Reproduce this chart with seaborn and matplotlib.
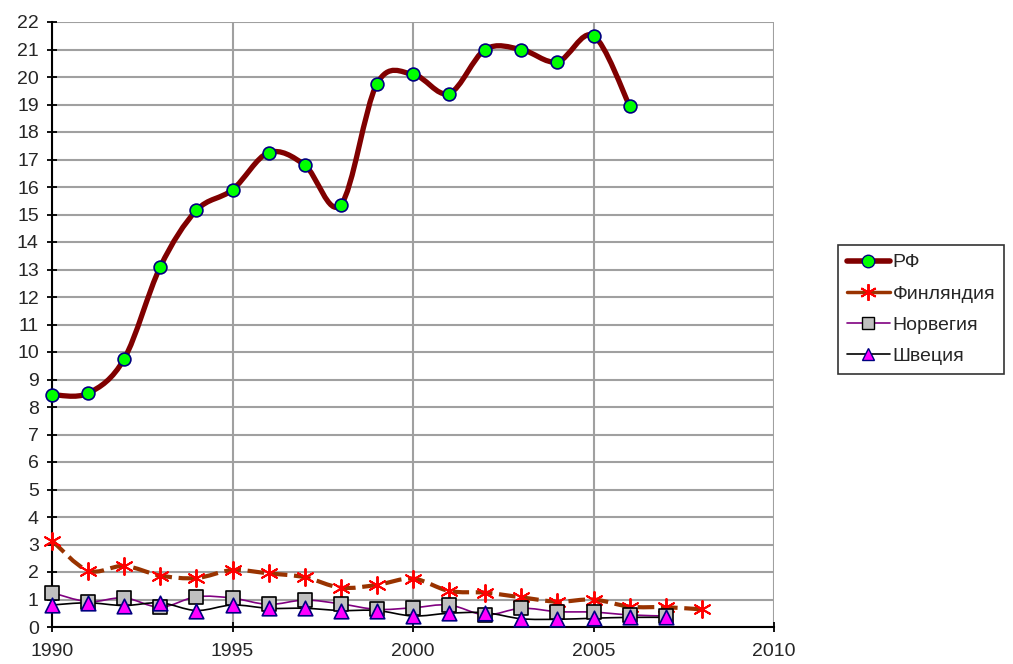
import numpy as np
import matplotlib
matplotlib.use("Agg")
import matplotlib.pyplot as plt
from matplotlib.path import Path
from matplotlib.patches import PathPatch
from matplotlib.lines import Line2D
import seaborn as sns

# Data
years_rf = [1990, 1991, 1992, 1993, 1994, 1995, 1996, 1997, 1998, 1999,
            2000, 2001, 2002, 2003, 2004, 2005, 2006]
rf = [8.45, 8.5, 9.75, 13.1, 15.15, 15.9, 17.25, 16.8, 15.35, 19.75,
      20.1, 19.4, 21.0, 21.0, 20.55, 21.5, 18.95]

years_fin = list(range(1990, 2009))
finland = [3.14, 2.05, 2.22, 1.87, 1.78, 2.07, 1.95, 1.81, 1.43, 1.53,
           1.76, 1.31, 1.25, 1.08, 0.92, 1.0, 0.74, 0.72, 0.64]

years_ns = list(range(1990, 2008))
norway = [1.25, 0.92, 1.06, 0.72, 1.1, 1.05, 0.82, 0.98, 0.84, 0.64,
          0.7, 0.8, 0.44, 0.68, 0.56, 0.54, 0.44, 0.4]
sweden = [0.8, 0.88, 0.78, 0.88, 0.6, 0.8, 0.68, 0.68, 0.6, 0.6,
          0.4, 0.5, 0.52, 0.3, 0.28, 0.32, 0.35, 0.35]

labels = ["РФ", "Финляндия", "Норвегия", "Швеция"]


def smooth_path(xs, ys):
    # Excel-style smoothed line: cubic Bezier segments (Catmull-Rom, tension 1/6)
    p = np.column_stack([xs, ys]).astype(float)
    n = len(p)
    verts = [p[0]]
    codes = [Path.MOVETO]
    for i in range(n - 1):
        p0 = p[i - 1] if i > 0 else p[i]
        p1, p2 = p[i], p[i + 1]
        p3 = p[i + 2] if i + 2 < n else p[i + 1]
        c1 = p1 + (p2 - p0) / 6.0
        c2 = p2 - (p3 - p1) / 6.0
        verts += [c1, c2, p2]
        codes += [Path.CURVE4] * 3
    return Path(verts, codes)


sns.set_style("white")
plt.rcParams['font.family'] = ['Liberation Sans', 'DejaVu Sans']

fig = plt.figure(figsize=(10.13, 6.64), dpi=100)
ax = fig.add_axes([52 / 1013, 37 / 664, (774 - 52) / 1013, (627 - 22) / 664])

styles = [
    (years_rf, rf, dict(color="#800000", lw=3.8, ls="-"),
     dict(marker="o", s=85, color="#00FF00", edgecolor="#000080", linewidth=1.2)),
    (years_fin, finland, dict(color="#993300", lw=3.0, ls=(0, (4, 1.6))),
     dict(marker=(6, 2, 0), s=150, color="#FF0000", edgecolor="#FF0000", linewidth=1.4)),
    (years_ns, norway, dict(color="#800080", lw=1.2, ls="-"),
     dict(marker="s", s=100, color="#C0C0C0", edgecolor="#000000", linewidth=1.2)),
    (years_ns, sweden, dict(color="#000000", lw=1.2, ls="-"),
     dict(marker="^", s=110, color="#FF00FF", edgecolor="#000080", linewidth=1.2)),
]

for xs, ys, lstyle, mstyle in styles:
    patch = PathPatch(smooth_path(xs, ys), facecolor="none", edgecolor=lstyle["color"],
                      lw=lstyle["lw"], linestyle=lstyle["ls"], zorder=3,
                      capstyle="butt", joinstyle="round")
    ax.add_patch(patch)

for xs, ys, lstyle, mstyle in styles:
    sns.scatterplot(x=xs, y=ys, ax=ax, zorder=4, legend=False, clip_on=False, **mstyle)

ax.set_xlim(1990, 2010)
ax.set_ylim(0, 22)
ax.set_xticks(range(1990, 2011, 5))
ax.set_yticks(range(0, 23))
ax.grid(True, color="#a0a0a0", lw=1.5)
ax.set_axisbelow(True)
for s in ["top", "right"]:
    ax.spines[s].set_visible(False)
for s in ["left", "bottom"]:
    ax.spines[s].set_color("black")
    ax.spines[s].set_linewidth(1.5)
ax.tick_params(axis="both", labelsize=14, length=7, width=1.3, color="black",
               direction="inout", left=True, bottom=True)
ax.tick_params(axis="y", pad=6)
ax.tick_params(axis="x", pad=8)
ax.set_xlabel("")
ax.set_ylabel("")

handles = [
    Line2D([], [], color="#800000", lw=4, marker="o", markersize=9,
           markerfacecolor="#00FF00", markeredgecolor="#000080"),
    Line2D([], [], color="#993300", lw=2.5, marker=(6, 2, 0), markersize=12,
           markerfacecolor="#FF0000", markeredgecolor="#FF0000", markeredgewidth=1.4),
    Line2D([], [], color="#800080", lw=1.2, marker="s", markersize=9,
           markerfacecolor="#C0C0C0", markeredgecolor="#000000"),
    Line2D([], [], color="#000000", lw=1.2, marker="^", markersize=9,
           markerfacecolor="#FF00FF", markeredgecolor="#000080"),
]
leg = fig.legend(handles, labels, loc="upper left", bbox_to_anchor=(838 / 1013, 1 - 245 / 664),
                 frameon=True, fancybox=False, edgecolor="black", fontsize=14,
                 handlelength=2.2, handletextpad=0.15, borderpad=0.45, labelspacing=0.7,
                 borderaxespad=0)
leg.get_frame().set_linewidth(1.2)

fig.savefig("out.png", dpi=100)
